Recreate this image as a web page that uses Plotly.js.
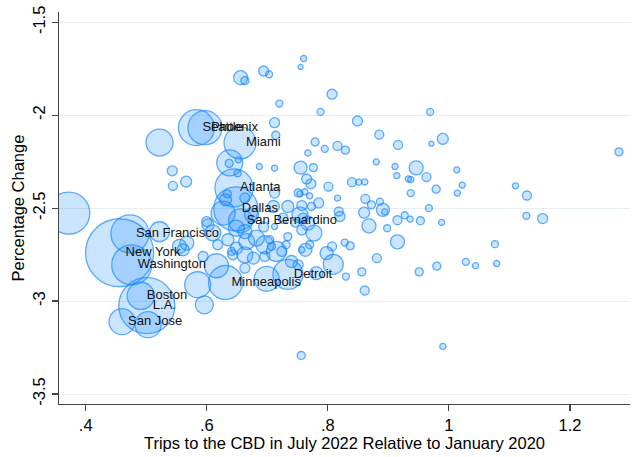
<!DOCTYPE html>
<html>
<head>
<meta charset="utf-8">
<script src="https://cdn.plot.ly/plotly-3.0.1.min.js"></script>
<style>html,body{margin:0;padding:0;background:#fff;}#chart{width:637px;height:457px;}</style>
</head>
<body>
<div id="chart"></div>
<script>
// Labelled metros come first; their values are the first entries of the arrays below.
const metroNames = ["Seattle","Phoenix","Miami","Atlanta","Dallas","San Bernardino","San Francisco","New York","Washington","Boston","L.A.","San Jose","Minneapolis","Detroit"];

// Trips to the CBD in July 2022 relative to January 2020
const tripsRatio = [
0.583,0.597,0.655,0.645,0.648,0.656,0.473,0.456,0.476,0.491,0.501,0.460,0.631,0.734,
0.760,0.755,0.656,0.663,0.694,0.703,0.720,0.807,0.788,0.969,0.849,0.712,0.714,0.885,0.779,0.795,
0.816,0.829,0.916,0.971,0.990,1.281,0.767,0.880,0.911,0.946,1.013,0.914,0.933,0.937,0.963,0.755,
0.776,0.687,0.712,0.765,0.772,0.801,0.840,0.851,0.861,1.022,1.110,0.979,0.937,1.014,1.129,0.712,
0.751,0.754,0.762,0.770,0.816,0.862,0.886,0.734,0.785,0.757,0.967,0.710,0.818,0.820,0.860,0.891,
0.894,0.927,0.936,0.915,0.953,0.988,1.128,1.155,0.868,0.898,0.777,0.915,1.076,0.828,0.837,0.807,
0.763,0.757,0.798,0.881,1.028,1.044,1.079,0.980,0.951,0.809,0.856,0.830,0.861,0.990,0.756,0.781,
0.872,0.770,
0.372,0.503,0.522,0.555,0.567,0.561,0.585,0.596,0.616,0.594,0.643,0.663,0.600,0.610,0.543,0.544,
0.566,0.522,0.638,0.637,0.652,0.651,0.634,0.627,0.602,0.666,0.682,0.696,0.715,0.724,0.740,0.751,
0.649,0.663,0.649,0.663,0.677,0.696,0.726,0.712,0.746,0.767,0.757,0.641,0.699,0.663,0.754,0.759,
0.773,0.704,0.707,0.734,0.635,0.618,0.674,0.631,0.694,0.731
];

// Percentage change (log points)
const pctChange = [
-2.067,-2.067,-2.149,-2.391,-2.504,-2.568,-2.638,-2.740,-2.805,-2.972,-3.025,-3.111,-2.900,-2.856,
-1.695,-1.740,-1.798,-1.814,-1.762,-1.780,-1.937,-1.887,-1.982,-1.982,-2.031,-2.040,-2.108,-2.104,-2.144,-2.181,
-2.165,-2.188,-2.160,-2.153,-2.127,-2.197,-2.203,-2.251,-2.276,-2.283,-2.294,-2.325,-2.343,-2.346,-2.333,-2.282,
-2.282,-2.276,-2.285,-2.343,-2.369,-2.384,-2.360,-2.360,-2.359,-2.376,-2.380,-2.398,-2.419,-2.419,-2.432,-2.419,
-2.418,-2.423,-2.412,-2.434,-2.446,-2.450,-2.465,-2.491,-2.472,-2.486,-2.500,-2.491,-2.518,-2.545,-2.524,-2.509,
-2.520,-2.538,-2.559,-2.565,-2.568,-2.577,-2.541,-2.556,-2.595,-2.608,-2.634,-2.681,-2.694,-2.685,-2.703,-2.706,
-2.724,-2.724,-2.742,-2.769,-2.789,-2.810,-2.798,-2.812,-2.843,-2.802,-2.843,-2.868,-2.943,-3.244,-3.293,-2.850,
-2.482,-2.697,
-2.527,-3.127,-2.627,-2.706,-2.688,-2.724,-2.912,-3.020,-2.810,-2.760,-2.751,-2.823,-2.572,-2.633,-2.299,-2.380,
-2.357,-2.147,-2.256,-2.259,-2.240,-2.312,-2.423,-2.527,-2.590,-2.680,-2.661,-2.697,-2.733,-2.733,-2.787,-2.805,
-2.608,-2.626,-2.715,-2.751,-2.769,-2.760,-2.554,-2.599,-2.581,-2.581,-2.617,-2.733,-2.880,-2.445,-2.536,-2.554,
-2.491,-2.670,-2.706,-2.653,-2.670,-2.697,-2.536,-2.455,-2.601,-2.697
];

// Bubble weight (population, millions, approx.)
const popMillions = [
5.61,5.00,4.43,6.25,8.37,2.49,6.25,20.0,6.92,3.20,13.56,2.92,5.00,3.89,
0.16,0.11,0.85,0.28,0.43,0.21,0.21,0.43,0.21,0.21,0.43,0.43,0.28,0.35,0.28,0.21,
0.35,0.28,0.35,0.11,0.52,0.28,0.16,0.16,0.16,0.85,0.16,0.16,0.16,0.16,0.35,0.73,
0.28,0.16,0.16,0.43,0.43,0.35,0.35,0.16,0.16,0.16,0.16,0.28,0.21,0.16,0.35,0.43,
0.28,0.16,0.16,0.16,0.16,0.35,0.21,0.62,0.43,0.43,0.21,0.62,0.35,0.43,0.52,0.73,
0.16,0.21,0.16,0.35,0.28,0.16,0.21,0.43,0.85,0.21,1.11,0.85,0.21,0.21,0.28,0.35,
0.73,0.16,0.73,0.35,0.21,0.16,0.16,0.28,0.28,1.73,0.28,0.21,0.35,0.16,0.28,0.73,
0.28,0.28,
7.63,2.92,1.73,0.85,0.85,0.62,2.92,1.40,2.49,0.43,0.43,0.43,0.43,1.11,0.43,0.35,
0.52,3.15,2.92,0.28,0.16,0.21,0.28,2.49,0.62,1.11,1.11,1.40,1.73,0.43,0.62,0.43,
1.11,0.85,0.62,1.11,0.62,0.43,0.43,0.16,0.28,0.85,0.43,0.28,2.70,0.43,1.11,0.43,
0.28,0.28,0.28,0.28,0.62,0.43,0.85,0.62,0.43,0.28
];

const xTickVals = [0.4, 0.6, 0.8, 1, 1.2];
const yTickVals = [-3.5, -3, -2.5, -2, -1.5];

const FONT = 'Liberation Sans, Arial, Helvetica, sans-serif';

const bubbles = {
  type: 'scatter',
  mode: 'markers',
  x: tripsRatio,
  y: pctChange,
  hoverinfo: 'skip',
  marker: {
    size: popMillions,
    sizemode: 'area',
    sizeref: 0.00865,
    color: 'rgba(30,144,255,0.32)',
    line: {color: 'rgb(20,135,255)', width: 1.3}
  }
};

const labels = {
  type: 'scatter',
  mode: 'markers+text',
  x: tripsRatio.slice(0, metroNames.length),
  y: pctChange.slice(0, metroNames.length),
  text: metroNames,
  textposition: 'middle right',
  textfont: {family: FONT, size: 13, color: '#111'},
  marker: {size: 8, color: 'rgba(0,0,0,0)'},
  hoverinfo: 'skip'
};

const layout = {
  width: 637,
  height: 457,
  margin: {l: 59, r: 7, t: 12, b: 53},
  paper_bgcolor: '#fff',
  plot_bgcolor: '#fff',
  showlegend: false,
  hovermode: false,
  font: {family: FONT, size: 16.5, color: '#000'},
  xaxis: {
    range: [0.3559, 1.2992],
    tickvals: xTickVals,
    ticktext: xTickVals.map(v => String(v).replace(/^0\./, '.')),
    showgrid: false,
    zeroline: false,
    showline: true,
    linecolor: '#444',
    linewidth: 1.2,
    ticks: 'outside',
    ticklen: 6,
    tickwidth: 1.2,
    tickcolor: '#444',
    tickfont: {family: FONT, size: 16.5, color: '#000'},
    title: {text: 'Trips to the CBD in July 2022 Relative to January 2020', font: {family: FONT, size: 16.5, color: '#000'}, standoff: 2}
  },
  yaxis: {
    range: [-3.5538, -1.4446],
    tickvals: yTickVals,
    ticktext: yTickVals.map(v => String(v)),
    tickangle: -90,
    showgrid: true,
    gridcolor: '#e6eff1',
    gridwidth: 1,
    zeroline: false,
    showline: true,
    linecolor: '#444',
    linewidth: 1.2,
    ticks: 'outside',
    ticklen: 6,
    tickwidth: 1.2,
    tickcolor: '#444',
    tickfont: {family: FONT, size: 16.5, color: '#000'},
    title: {text: 'Percentage Change', font: {family: FONT, size: 16.5, color: '#000'}, standoff: 1}
  }
};

Plotly.newPlot('chart', [bubbles, labels], layout, {displayModeBar: false, staticPlot: true});
</script>
</body>
</html>
